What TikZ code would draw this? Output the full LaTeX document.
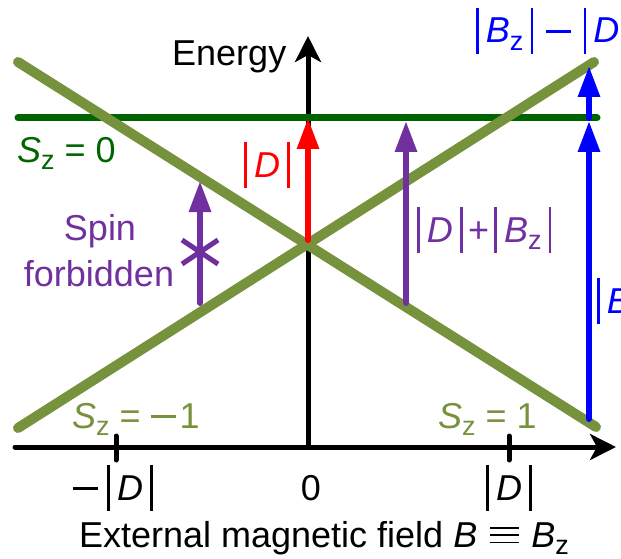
\documentclass[tikz,border=0pt]{standalone}
\usepackage{fontspec}
\setmainfont{Liberation Sans}
\usetikzlibrary{arrows.meta}
\definecolor{olivegr}{RGB}{118,146,60}
\definecolor{darkgr}{RGB}{0,100,0}
\definecolor{spinpurple}{RGB}{112,48,160}
\newcommand{\vbar}{\rule[-0.3em]{0.07em}{1.27em}}
\newcommand{\abs}[1]{\vbar\kern0.2em#1\kern0.2em\vbar}
\newcommand{\lowz}{\raisebox{-0.2em}{\fontsize{27}{30}\selectfont z}}
\newcommand{\vD}{\textit{D}\/}
\newcommand{\vBz}{\textit{B}\lowz}
\newcommand{\vSz}{\textit{S}\lowz}
\newcommand{\mminus}{\rule[0.28em]{0.7em}{0.07em}}
\newcommand{\idsym}{\rlap{\rule[0.1em]{0.8em}{0.05em}}\rlap{\rule[0.3em]{0.8em}{0.05em}}\rule[0.5em]{0.8em}{0.05em}}

\begin{document}
\begin{tikzpicture}[x=1pt, y=-1pt, every node/.style={font=\fontsize{36}{40}\selectfont, inner sep=0pt}]
\tikzset{
    axis/.style={line width=5pt, line cap=round, -{Stealth[length=26pt,width=26pt,inset=7pt]}},
    tick/.style={line width=5pt, line cap=round},
    level/.style={olivegr, line width=10pt, line cap=round},
    ground/.style={darkgr, line width=7pt, line cap=round},
    trans/.style={line width=6pt, line cap=round, -{Triangle[length=31pt,width=21pt]}},
    lbl/.style={anchor=base west}
}
\useasboundingbox (0,0) rectangle (621,559);

% axes
\coordinate (origin) at (308,447);
\coordinate (xleft) at (15,447);
\coordinate (xright) at (616,447);
\coordinate (ytop) at (308,36);
\draw[axis] (xleft) -- (xright);
\draw[axis] (origin) -- (ytop);
\draw[tick] (116,436) -- (116,460);
\draw[tick] (509,436) -- (509,460);
\node[anchor=base] (tickm) at (113,500) {\mminus\kern0.25em\abs{\vD}};
\node[anchor=base] (tick0) at (311,500) {0};
\node[anchor=base] (tickp) at (509,500) {\abs{\vD}};
\node[anchor=base] (xlabel) at (324,547) {External magnetic field \textit{B}\kern0.35em\idsym\kern0.35em\vBz};
\node[lbl] (ylabel) at (172,66) {Energy};

% levels
\coordinate (ul) at (18,62);
\coordinate (ll) at (18,428);
\coordinate (ur) at (594,62);
\coordinate (lr) at (596,427);
\coordinate (gl) at (18,118);
\coordinate (gr) at (597,118);
\draw[ground] (gl) -- (gr);
\draw[level] (ul) -- (lr);
\draw[level] (ll) -- (ur);
\node[lbl, text=darkgr] (s0) at (17,162) {\vSz\ = 0};
\node[lbl, text=olivegr] (sm) at (72,428) {\vSz\ = \mminus\kern0.1em1};
\node[lbl, text=olivegr] (sp) at (438,428) {\vSz\ = 1};

% transitions
\coordinate (rb) at (308,240);
\coordinate (rt) at (308,118);
\draw[trans, red] (rb) -- (rt);
\node[anchor=base, text=red] (dlab) at (267,177) {\abs{\vD}};

\coordinate (pb) at (406,303);
\coordinate (pt) at (406,121);
\draw[trans, spinpurple] (pb) -- (pt);
\node[lbl, text=spinpurple] (dblab) at (417,242) {\abs{\vD}\kern0.15em+\kern0.15em\abs{\vBz}};

\coordinate (fb) at (200,303);
\coordinate (ft) at (200,181);
\draw[trans, spinpurple] (fb) -- (ft);
\draw[tick, spinpurple, line cap=butt] (182,240) -- (218,264);
\draw[tick, spinpurple, line cap=butt] (182,264) -- (218,240);
\node[anchor=base, text=spinpurple] (spin) at (100,240) {Spin};
\node[anchor=base, text=spinpurple] (forb) at (99,286) {forbidden};

\coordinate (bb) at (589,419);
\coordinate (bm) at (589,121);
\coordinate (bt) at (589,66);
\draw[trans, blue] (bb) -- (bm);
\draw[trans, blue] (gr -| bt) -- (bt);
\node[lbl, text=blue] (bdlab) at (476,43) {\abs{\vBz}\kern0.35em\mminus\kern0.35em\abs{\vD}};
\node[lbl, text=blue] (blab) at (597,313) {\abs{\vBz}};
\end{tikzpicture}
\end{document}
